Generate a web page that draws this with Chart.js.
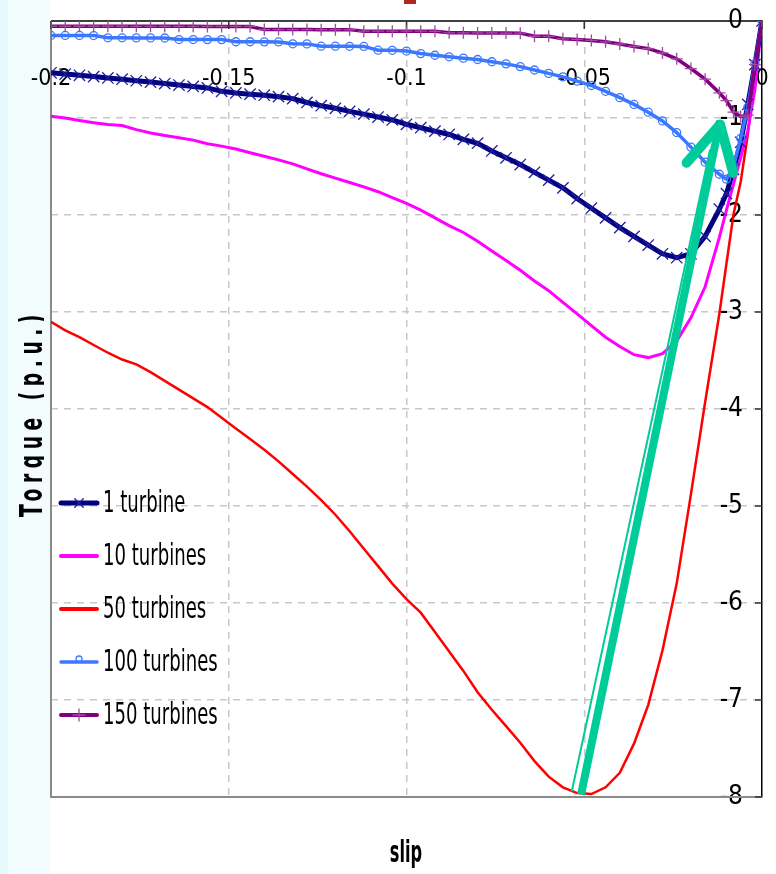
<!DOCTYPE html>
<html>
<head>
<meta charset="utf-8">
<script src="https://cdn.jsdelivr.net/npm/chart.js@4.4.1/dist/chart.umd.min.js"></script>
<style>
  html, body { margin: 0; padding: 0; background: #fff; overflow: hidden; }
  #wrap { position: relative; width: 776px; height: 874px; }
</style>
</head>
<body>
<div id="wrap"><canvas id="torqueChart"></canvas></div>
<script>
// slip values shared by every curve
const slip = [
    -0.2, -0.196, -0.192, -0.188, -0.184, -0.18, -0.176, -0.172, -0.168, -0.164,
    -0.16, -0.156, -0.152, -0.148, -0.144, -0.14, -0.136, -0.132, -0.128, -0.124,
    -0.12, -0.116, -0.112, -0.108, -0.104, -0.1, -0.096, -0.092, -0.088, -0.084,
    -0.08, -0.076, -0.072, -0.068, -0.064, -0.06, -0.056, -0.052, -0.048, -0.044,
    -0.04, -0.036, -0.032, -0.028, -0.024, -0.02, -0.016, -0.012,
    -0.01, -0.008, -0.006, -0.004, -0.002, 0
]

const oneTurbine = [
    -0.534, -0.547, -0.56, -0.573, -0.587, -0.6, -0.616, -0.63, -0.645, -0.66,
    -0.675, -0.69, -0.725, -0.742, -0.754, -0.765, -0.78, -0.8, -0.84, -0.873,
    -0.9, -0.932, -0.96, -0.99, -1.02, -1.065, -1.1, -1.135, -1.17, -1.22,
    -1.26, -1.34, -1.41, -1.48, -1.56, -1.64, -1.72, -1.83, -1.93, -2.03,
    -2.13, -2.22, -2.31, -2.4, -2.44, -2.4, -2.22, -1.94,
    -1.78, -1.53, -1.25, -0.86, -0.45, 0
]

const tenTurbines = [
    -0.981, -1.0, -1.025, -1.048, -1.068, -1.078, -1.12, -1.155, -1.18, -1.203,
    -1.228, -1.266, -1.29, -1.32, -1.358, -1.395, -1.432, -1.473, -1.525, -1.575,
    -1.62, -1.665, -1.71, -1.76, -1.82, -1.88, -1.95, -2.03, -2.11, -2.18,
    -2.27, -2.37, -2.47, -2.57, -2.68, -2.78, -2.9, -3.02, -3.14, -3.26,
    -3.355, -3.44, -3.47, -3.43, -3.3, -3.06, -2.74, -2.23,
    -1.95, -1.68, -1.41, -1.13, -0.71, 0
]

const fiftyTurbines = [
    -3.1, -3.19, -3.26, -3.34, -3.42, -3.49, -3.54, -3.62, -3.71, -3.8,
    -3.89, -3.98, -4.09, -4.2, -4.31, -4.42, -4.54, -4.67, -4.8, -4.94,
    -5.09, -5.26, -5.44, -5.62, -5.8, -5.96, -6.1, -6.3, -6.5, -6.7,
    -6.92, -7.1, -7.27, -7.44, -7.63, -7.79, -7.9, -7.96, -7.97, -7.9,
    -7.75, -7.45, -7.05, -6.49, -5.8, -4.88, -3.93, -3.02,
    -2.5, -1.99, -1.66, -1.17, -0.57, 0
]

const hundredTurbines = [
    -0.149, -0.149, -0.149, -0.15, -0.173, -0.173, -0.174, -0.174, -0.175, -0.191,
    -0.191, -0.192, -0.192, -0.214, -0.214, -0.215, -0.216, -0.235, -0.236, -0.26,
    -0.26, -0.261, -0.262, -0.301, -0.302, -0.31, -0.336, -0.353, -0.369, -0.383,
    -0.397, -0.42, -0.442, -0.47, -0.505, -0.54, -0.576, -0.62, -0.665, -0.725,
    -0.79, -0.86, -0.94, -1.03, -1.15, -1.3, -1.455, -1.58,
    -1.63, -1.5, -1.21, -0.89, -0.44, 0
]

const hundredFiftyTurbines = [
    -0.054, -0.054, -0.054, -0.054, -0.054, -0.054, -0.055, -0.055, -0.055, -0.055,
    -0.055, -0.056, -0.056, -0.056, -0.056, -0.088, -0.088, -0.088, -0.088, -0.089,
    -0.089, -0.089, -0.105, -0.105, -0.105, -0.105, -0.105, -0.106, -0.122, -0.122,
    -0.123, -0.123, -0.124, -0.125, -0.157, -0.158, -0.184, -0.19, -0.2, -0.215,
    -0.237, -0.262, -0.285, -0.33, -0.39, -0.49, -0.6, -0.74,
    -0.82, -0.94, -0.985, -0.97, -0.45, 0
]

const seriesLabels = ["1 turbine", "10 turbines", "50 turbines", "100 turbines", "150 turbines"]

const xTicks = [-0.2, -0.15, -0.1, -0.05, 0]
const xTickLabels = ["-0.2", "-0.15", "-0.1", "-0.05", "0"]
const yTicks = [0, -1, -2, -3, -4, -5, -6, -7, -8]
const yTickLabels = ["0", "-1", "-2", "-3", "-4", "-5", "-6", "-7", "-8"]

// green arrow, in chart units (slip, torque)
const arrowEdge = [[-0.0535, -7.94], [-0.0146, -1.325]]
const arrowShaft = [[-0.0509, -7.975], [-0.0118, -1.03]]
const arrowHead = [[-0.0212, -1.462], [-0.0118, -1.067], [-0.0081, -1.565]]

const narrow = '"Liberation Sans Narrow", "Arial Narrow", "DejaVu Sans Condensed", sans-serif'

function toPoints(values) {
    return slip.map((s, i) => ({ x: s, y: values[i] }))
}

const backdrop = {
    id: "backdrop",
    beforeDraw(chart) {
        const ctx = chart.ctx
        ctx.save()
        ctx.fillStyle = "#ffffff"
        ctx.fillRect(0, 0, chart.width, chart.height)
        ctx.fillStyle = "#f2fcfd"
        ctx.fillRect(0, 0, 50, chart.height)
        ctx.fillStyle = "#e6f9fb"
        ctx.fillRect(0, 0, 8, chart.height)
        ctx.fillStyle = "#b0281c"
        ctx.fillRect(404, 0, 12, 4)
        ctx.restore()
    }
}

// plot frame: grey left/bottom edges, black top axis line, short tick marks
const frame = {
    id: "frame",
    beforeDatasetsDraw(chart) {
        const { ctx, chartArea: a } = chart
        const xScale = chart.scales.x
        const yScale = chart.scales.y
        ctx.save()
        ctx.strokeStyle = "#8a8a8a"
        ctx.lineWidth = 2
        ctx.beginPath()
        ctx.moveTo(a.left, a.top)
        ctx.lineTo(a.left, a.bottom)
        ctx.lineTo(a.right, a.bottom)
        ctx.stroke()

        ctx.strokeStyle = "#000"
        ctx.lineWidth = 1.5
        ctx.beginPath()
        ctx.moveTo(a.left, a.top)
        ctx.lineTo(a.right, a.top)
        ctx.stroke()

        ctx.strokeStyle = "#333"
        xTicks.forEach(v => {
            const px = xScale.getPixelForValue(v)
            ctx.beginPath()
            ctx.moveTo(px, a.top)
            ctx.lineTo(px, a.top + 8)
            ctx.stroke()
        })
        yTicks.forEach(v => {
            const py = yScale.getPixelForValue(v)
            ctx.beginPath()
            ctx.moveTo(a.right - 7, py)
            ctx.lineTo(a.right, py)
            ctx.stroke()
        })
        ctx.restore()
    }
}

const arrow = {
    id: "arrow",
    afterDatasetsDraw(chart) {
        const { ctx } = chart
        const xs = chart.scales.x
        const ys = chart.scales.y
        const px = p => [xs.getPixelForValue(p[0]), ys.getPixelForValue(p[1])]
        const line = (pts, width, cap) => {
            ctx.lineWidth = width
            ctx.lineCap = cap
            ctx.lineJoin = "round"
            ctx.beginPath()
            pts.map(px).forEach((p, i) => i ? ctx.lineTo(p[0], p[1]) : ctx.moveTo(p[0], p[1]))
            ctx.stroke()
        }
        ctx.save()
        ctx.strokeStyle = "#00cc99"
        line(arrowEdge, 2, "butt")
        line(arrowShaft, 8, "butt")
        line(arrowHead, 10, "round")
        ctx.restore()
    }
}

const legendBox = {
    id: "legendBox",
    afterDatasetsDraw(chart) {
        const ctx = chart.ctx
        ctx.save()
        chart.data.datasets.forEach((ds, i) => {
            const y = 503 + i * 53
            ctx.strokeStyle = ds.borderColor
            ctx.lineWidth = ds.legendWidth
            ctx.lineCap = "round"
            ctx.beginPath()
            ctx.moveTo(61, y)
            ctx.lineTo(97, y)
            ctx.stroke()
            if (ds.pointRadius > 0) {
                ctx.strokeStyle = ds.pointBorderColor
                ctx.fillStyle = "rgba(0,0,0,0)"
                ctx.lineWidth = ds.pointBorderWidth
                Chart.helpers.drawPoint(ctx, {
                    pointStyle: ds.pointStyle,
                    radius: ds.pointStyle === "circle" ? 3 : 6,
                    borderWidth: ds.pointBorderWidth,
                    rotation: 0
                }, 79, ds.pointStyle === "circle" ? y - 3 : y)
            }
            ctx.fillStyle = "#000"
            ctx.font = "30px " + narrow
            ctx.textBaseline = "middle"
            ctx.textAlign = "left"
            ctx.save()
            ctx.translate(103, y + 1)
            ctx.scale(0.67, 1)
            ctx.fillText(ds.label, 0, 0)
            ctx.restore()
        })
        ctx.restore()
    }
}

const axisTitles = {
    id: "axisTitles",
    afterDraw(chart) {
        const ctx = chart.ctx
        ctx.save()
        ctx.fillStyle = "#000"
        ctx.font = "bold 30px " + narrow
        ctx.textAlign = "center"
        ctx.textBaseline = "alphabetic"
        ctx.save()
        ctx.translate(406, 862)
        ctx.scale(0.6, 1)
        ctx.fillText("slip", 0, 0)
        ctx.restore()

        ctx.save()
        ctx.beginPath()
        ctx.rect(0, 0, 44, chart.height)
        ctx.clip()
        ctx.translate(42, 413)
        ctx.rotate(-Math.PI / 2)
        ctx.scale(0.65, 1)
        ctx.font = "bold 32px " + narrow
        ctx.letterSpacing = "8.5px"
        ctx.fillText("Torque (p.u.)", 0, 0)
        ctx.restore()
        ctx.restore()
    }
}

const edgeColor = (ends, color) => c => (c.tick && ends.includes(c.tick.value)) ? "rgba(0,0,0,0)" : color

const ctx = document.getElementById("torqueChart")

new Chart(ctx, {
    type: "line",
    data: {
        datasets: [
            {
                label: seriesLabels[0],
                data: toPoints(oneTurbine),
                borderColor: "#000080",
                borderWidth: 5,
                legendWidth: 5,
                pointStyle: "crossRot",
                pointRadius: 8,
                pointBorderColor: "#1e1e9e",
                pointBorderWidth: 1.3,
                order: 3
            },
            {
                label: seriesLabels[1],
                data: toPoints(tenTurbines),
                borderColor: "#ff00ff",
                borderWidth: 3,
                legendWidth: 4,
                pointRadius: 0,
                order: 4
            },
            {
                label: seriesLabels[2],
                data: toPoints(fiftyTurbines),
                borderColor: "#ff0000",
                borderWidth: 2.5,
                legendWidth: 4,
                pointRadius: 0,
                order: 5
            },
            {
                label: seriesLabels[3],
                data: toPoints(hundredTurbines),
                borderColor: "#3b78ff",
                borderWidth: 3.5,
                legendWidth: 3.5,
                pointStyle: "circle",
                pointRadius: 4,
                pointBackgroundColor: "rgba(255,255,255,0)",
                pointBorderColor: "#3b78ff",
                pointBorderWidth: 1.3,
                order: 2
            },
            {
                label: seriesLabels[4],
                data: toPoints(hundredFiftyTurbines),
                borderColor: "#800080",
                borderWidth: 3.5,
                legendWidth: 4,
                pointStyle: "cross",
                pointRadius: 6,
                pointBorderColor: "#a04aa0",
                pointBorderWidth: 1.3,
                order: 1
            }
        ]
    },
    options: {
        responsive: true,
        maintainAspectRatio: false,
        animation: false,
        devicePixelRatio: 1,
        layout: { padding: { left: 51, right: 14, top: 21, bottom: 77 } },
        plugins: {
            legend: { display: false },
            tooltip: { enabled: false }
        },
        elements: { line: { tension: 0 } },
        scales: {
            x: {
                type: "linear",
                // labels sit inside the plot, a little below the top axis line
                position: { y: -0.425 },
                min: -0.2,
                max: 0,
                afterBuildTicks: axis => { axis.ticks = xTicks.map(v => ({ value: v })) },
                ticks: {
                    padding: 3,
                    color: "#000",
                    font: { family: narrow, size: 23 },
                    maxRotation: 0,
                    autoSkip: false,
                    callback: (v) => xTickLabels[xTicks.indexOf(v)]
                },
                grid: {
                    color: edgeColor([-0.2, 0], "#c8c8c8"),
                    lineWidth: 1.5,
                    drawTicks: false
                },
                border: { display: false, dash: [7, 6] }
            },
            y: {
                type: "linear",
                position: "right",
                min: -8,
                max: 0,
                afterBuildTicks: axis => { axis.ticks = yTicks.map(v => ({ value: v })) },
                afterFit: axis => { axis.width = 0 },
                ticks: {
                    mirror: true,
                    padding: -19,
                    color: "#000",
                    font: { family: narrow, size: 26 },
                    callback: (v) => yTickLabels[yTicks.indexOf(v)]
                },
                grid: {
                    color: edgeColor([0, -8], "#c8c8c8"),
                    lineWidth: 1.5,
                    drawTicks: false
                },
                border: { display: true, color: "#000", width: 1.5, dash: [7, 6] }
            }
        }
    },
    plugins: [backdrop, frame, arrow, legendBox, axisTitles]
})
</script>
</body>
</html>
